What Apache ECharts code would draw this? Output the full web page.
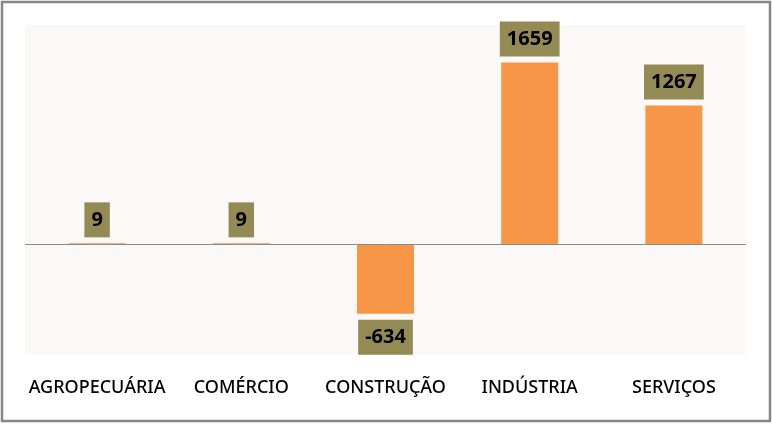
<!DOCTYPE html>
<html>
<head>
<meta charset="utf-8">
<script src="https://cdn.jsdelivr.net/npm/echarts@6/dist/echarts.min.js"></script>
<style>
html,body{margin:0;padding:0;background:#fff;}
#chart{width:772px;height:424px;}
</style>
</head>
<body>
<div id="chart"></div>
<script>
var categories = ['AGROPECUÁRIA', 'COMÉRCIO', 'CONSTRUÇÃO', 'INDÚSTRIA', 'SERVIÇOS'];
var values = [9, 9, -634, 1659, 1267];

var chart = echarts.init(document.getElementById('chart'));
var font = '"Noto Sans", "Open Sans", sans-serif';
chart.setOption({
  animation: false,
  backgroundColor: '#ffffff',
  graphic: [{
    type: 'rect',
    shape: { x: 2, y: 2, width: 768, height: 419 },
    style: { fill: 'none', stroke: '#878787', lineWidth: 2.5 },
    silent: true, z: 100
  }],
  grid: {
    left: 25, right: 26, top: 25, bottom: 70,
    show: true, backgroundColor: '#faf9f8', borderWidth: 0
  },
  xAxis: {
    type: 'category',
    data: categories,
    axisLine: { show: false },
    axisTick: { show: false },
    axisLabel: { color: '#000', fontSize: 18, fontWeight: 500, fontFamily: font, margin: 25, interval: 0 }
  },
  yAxis: {
    type: 'value',
    min: -1000, max: 2000,
    show: false,
    splitLine: { show: false }
  },
  series: [{
    type: 'bar',
    data: values.map(function (v) {
      return { value: v, label: { position: v < 0 ? 'bottom' : 'top' } };
    }),
    barWidth: 57,
    itemStyle: { color: '#f79646' },
    label: {
      show: true,
      distance: 6,
      color: '#000',
      fontWeight: 'bold',
      fontSize: 20,
      lineHeight: 23,
      fontFamily: font,
      backgroundColor: '#948a54',
      padding: [6, 7]
    },
    markLine: {
      silent: true,
      symbol: 'none',
      label: { show: false },
      lineStyle: { color: '#8a8a8a', type: 'solid', width: 1 },
      data: [{ yAxis: 0 }]
    }
  }]
});
</script>
</body>
</html>
